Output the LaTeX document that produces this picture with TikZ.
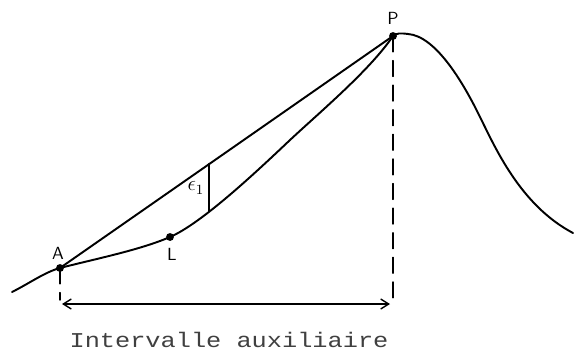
\documentclass[tikz,border=0pt]{standalone}
\usepackage{amsmath,amssymb}
\usepackage{fontspec}
\setmonofont{Liberation Mono}
\usetikzlibrary{arrows.meta}

\begin{document}
\begin{tikzpicture}[x=0.02cm,y=-0.02cm,>={Straight Barb[length=1.6mm,width=2mm]},font=\sffamily,line cap=round,
  curve/.style={line width=1.1pt},
  pt/.style={circle,fill,inner sep=0pt,minimum size=4.5pt},
  lbl/.style={inner sep=1pt,font=\sffamily},
  guide/.style={thick,dash pattern=on 9pt off 5pt}]
\useasboundingbox (0,0) rectangle (575,352);
\node[pt] (A) at (60,268) {};
\node[pt] (L) at (170,237) {};
\node[pt] (P) at (393,36) {};
\node[lbl] at (58,253) {A};
\node[lbl] at (172,254) {L};
\node[lbl] at (393,18) {P};
% la courbe
\draw[curve] (12,292) .. controls (30,283) and (45,272) .. (A.center)
  .. controls (95,259) and (140,250) .. (L.center)
  .. controls (200,224) and (250,178) .. (290,140)
  .. controls (320,112) and (370,70) .. (P.center)
  .. controls (397,33) and (400,33) .. (408,34)
  .. controls (435,36) and (462,80) .. (480,117)
  .. controls (495,147) and (520,205) .. (573,233);
% corde et ecart
\draw[curve] (A.center) -- (P.center);
\coordinate (e1top) at (209,164);
\coordinate (e1bot) at (209,211);
\draw[line width=1.4pt] (e1top) -- (e1bot);
\node[lbl,font=\large] at (196,188) {$\epsilon_1$};
% intervalle
\coordinate (Pfoot) at (393,300);
\coordinate (Afoot) at (60,300);
\draw[guide] (P.center) -- (Pfoot);
\draw[guide] (A.center) -- (Afoot);
\coordinate (ia) at (62,304);
\coordinate (ib) at (390,304);
\draw[<->,thick] (ia) -- (ib);
\node[font=\ttfamily\large,xscale=1.2,text=black!75] (titre) at (229,340) {Intervalle auxiliaire};
\end{tikzpicture}
\end{document}
